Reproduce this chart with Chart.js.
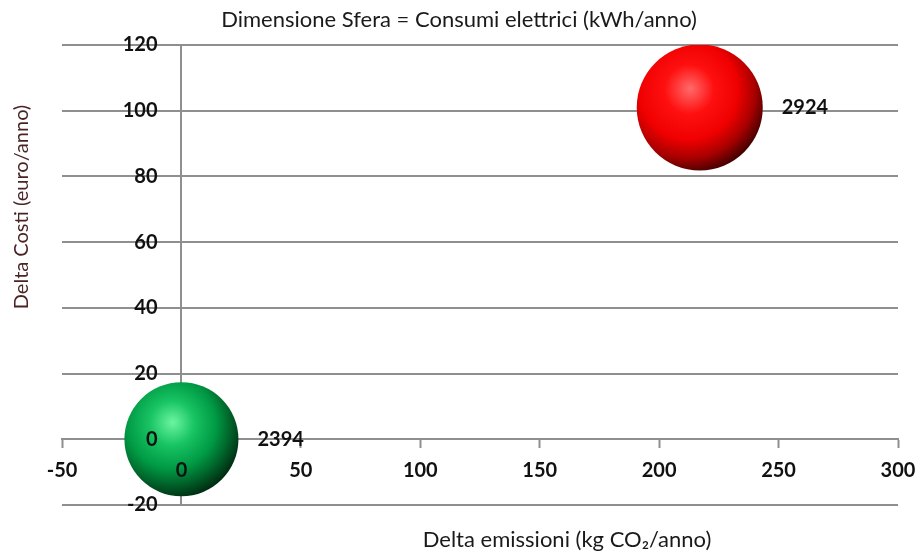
<!DOCTYPE html>
<html>
<head>
<meta charset="utf-8">
<script src="https://cdn.jsdelivr.net/npm/chart.js@4.4.1/dist/chart.umd.min.js"></script>
<style>
  html, body { margin: 0; padding: 0; background: #fff; }
  #wrap { width: 920px; height: 553px; }
</style>
</head>
<body>
<div id="wrap"><canvas id="chart"></canvas></div>
<script>
// values
const deltaEmissioni = [0, 217];      // kg CO2/anno
const deltaCosti = [0, 101];          // euro/anno
const consumi = [2394, 2924];         // kWh/anno -> bubble size
const xTicks = [-50, 0, 50, 100, 150, 200, 250, 300];
const yTicks = [-20, 0, 20, 40, 60, 80, 100, 120];

const titleText = "Dimensione Sfera = Consumi elettrici (kWh/anno)";
const xTitle = "Delta emissioni (kg CO\u2082/anno)";
const yTitle = "Delta Costi (euro/anno)";

// sphere shading, one set of stops per bubble
const sphereStops = [
  ["#6cf5a0", "#18c463", "#009a45", "#006028", "#002d12"],
  ["#ff6a6a", "#ff1010", "#f00000", "#a80000", "#480000"]
];

const MAX_R = 63;
const maxSize = Math.max(...consumi);
const FONT = "Lato, 'Open Sans', sans-serif";
const gridGray = "#8f8f8f";

function sphere(ctx) {
  const chart = ctx.chart;
  if (!chart.chartArea || ctx.type !== "data") return sphereStops[0][2];
  const raw = ctx.raw;
  const cx = chart.scales.x.getPixelForValue(raw.x);
  const cy = chart.scales.y.getPixelForValue(raw.y);
  const r = raw.r;
  const g = chart.ctx.createRadialGradient(cx - 0.15 * r, cy - 0.3 * r, 0, cx - 0.2 * r, cy - 0.25 * r, 1.3 * r);
  const stops = sphereStops[ctx.dataIndex];
  g.addColorStop(0, stops[0]);
  g.addColorStop(0.3, stops[1]);
  g.addColorStop(0.6, stops[2]);
  g.addColorStop(0.82, stops[3]);
  g.addColorStop(1, stops[4]);
  return g;
}

// size value printed to the right of each sphere
const bubbleLabels = {
  id: "bubbleLabels",
  afterDatasetsDraw(chart) {
    const c = chart.ctx;
    const meta = chart.getDatasetMeta(0);
    c.save();
    c.font = "bold 20px " + FONT;
    c.fillStyle = "#111";
    c.textAlign = "left";
    c.textBaseline = "middle";
    meta.data.forEach((el, i) => {
      c.fillText(String(consumi[i]), el.x + el.options.radius + 19, el.y);
    });
    c.restore();
  }
};

// chart title and axis titles (placed like in the Excel original)
const chartTexts = {
  id: "chartTexts",
  afterDraw(chart) {
    const c = chart.ctx;
    c.save();
    c.textAlign = "center";
    c.textBaseline = "middle";
    c.fillStyle = "#1a1a1a";
    c.font = "22px " + FONT;
    c.fillText(titleText, 459, 20);
    c.fillText(xTitle, 567, 540);
    c.translate(22, 207);
    c.rotate(-Math.PI / 2);
    c.fillStyle = "#4a2424";
    c.font = "20px " + FONT;
    c.fillText(yTitle, 0, 0);
    c.restore();
  }
};

const tickFont = { family: FONT, size: 20, weight: "bold" };

new Chart(document.getElementById("chart"), {
  type: "bubble",
  data: {
    datasets: [{
      label: "Consumi elettrici",
      data: deltaEmissioni.map((x, i) => ({
        x: x,
        y: deltaCosti[i],
        r: MAX_R * Math.sqrt(consumi[i] / maxSize)
      })),
      backgroundColor: sphere,
      borderWidth: 0,
      hoverBorderWidth: 0
    }]
  },
  options: {
    responsive: true,
    maintainAspectRatio: false,
    animation: false,
    events: [],
    layout: { autoPadding: false, padding: { left: 62, right: 22, bottom: 48, top: 45 } },
    plugins: {
      legend: { display: false },
      tooltip: { enabled: false },
      title: { display: false }
    },
    scales: {
      x: {
        type: "linear",
        position: { y: 0 },
        min: xTicks[0],
        max: xTicks[xTicks.length - 1],
        ticks: {
          stepSize: xTicks[1] - xTicks[0],
          color: "#111",
          font: tickFont,
          padding: 0,
          z: 1
        },
        grid: {
          drawOnChartArea: false,
          drawTicks: true,
          tickLength: 19,
          tickWidth: 2,
          tickColor: gridGray,
          tickBorderDash: [8, 60]
        },
        border: { display: true, color: gridGray, width: 2 }
      },
      y: {
        type: "linear",
        position: { x: 0 },
        min: yTicks[0],
        max: yTicks[yTicks.length - 1],
        ticks: { display: false, stepSize: yTicks[1] - yTicks[0] },
        grid: { color: gridGray, lineWidth: 2, drawTicks: false },
        border: { display: true, color: gridGray, width: 2 }
      },
      // tick labels of the vertical axis, set a little left of the axis line
      yLabels: {
        type: "linear",
        axis: "y",
        position: { x: -10 },
        min: yTicks[0],
        max: yTicks[yTicks.length - 1],
        ticks: {
          stepSize: yTicks[1] - yTicks[0],
          color: "#111",
          font: tickFont,
          padding: 0,
          z: 1
        },
        grid: { display: false, drawTicks: false },
        border: { display: false }
      }
    }
  },
  plugins: [bubbleLabels, chartTexts]
});
</script>
</body>
</html>
